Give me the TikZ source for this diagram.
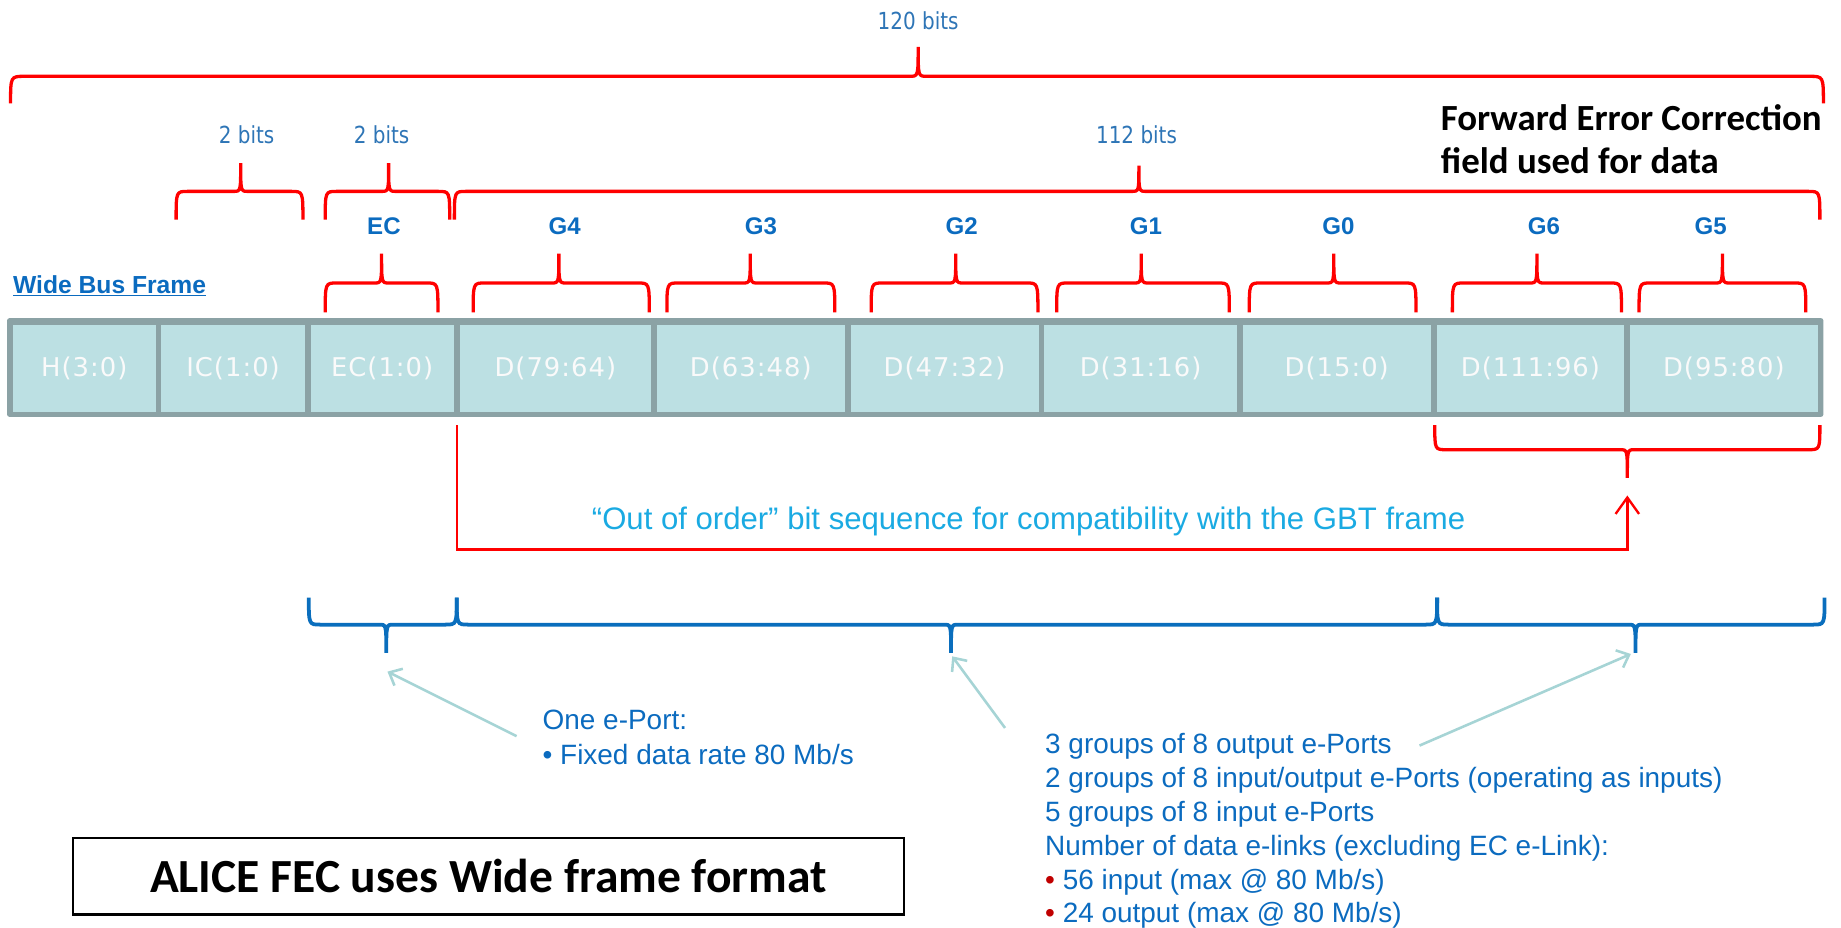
\documentclass[tikz,border=0pt]{standalone}
\usepackage{fontspec}
\setmainfont{Liberation Sans}
\newfontfamily\calib{Carlito}
\newfontfamily\cellfam[LetterSpace=4]{DejaVu Sans}
\newfontfamily\bitsfam[FakeStretch=0.85]{DejaVu Sans}
\usetikzlibrary{arrows.meta}
\definecolor{bred}{HTML}{FF0000}
\definecolor{bblue}{HTML}{0A6EBD}
\definecolor{lblue}{HTML}{2E75B6}
\definecolor{gblue}{HTML}{0B6BBF}
\definecolor{cyantxt}{HTML}{1AAAE2}
\definecolor{cellfill}{HTML}{BCE0E3}
\definecolor{cellborder}{HTML}{8BA2A5}
\definecolor{arrteal}{HTML}{A6D4D5}
\definecolor{bulred}{HTML}{C00000}
\newcommand\cellfnt{\cellfam\fontsize{22}{26}\selectfont}
\newcommand\bitsfnt{\bitsfam\fontsize{20}{24}\selectfont}
\newcommand\grpfnt{\bfseries\fontsize{20.5}{24}\selectfont}
\newcommand\infofnt{\fontsize{23.8}{28}\selectfont}
% style, x1, x2, xm, ytip, yh, yspike, r
\newcommand\curly[8]{\draw[#1] (#2,#5) .. controls (#2,#6) .. ({#2+#8},#6) -- ({#4-#8*0.6},#6) .. controls (#4,#6) .. (#4,#7) .. controls (#4,#6) .. ({#4+#8*0.6},#6) -- ({#3-#8},#6) .. controls (#3,#6) .. (#3,#5);}
\begin{document}
\begin{tikzpicture}[x=1pt,y=-1pt,
  redbrace/.style={draw=bred, line width=2.8pt},
  bluebrace/.style={draw=bblue, line width=3.2pt},
  cell/.style={fill=cellfill, minimum height=74pt, inner sep=0pt, text=white!96!gray, font=\cellfnt},
  bitslbl/.style={text=lblue, font=\bitsfnt, inner sep=0pt, anchor=base},
  grp/.style={text=gblue, font=\grpfnt, inner sep=0pt, anchor=base},
  infotxt/.style={text=gblue, font=\infofnt, inner sep=0pt, anchor=base west},
  hint/.style={draw=arrteal, line width=2.2pt, -{Straight Barb[length=9pt,width=16pt]}},
  oolink/.style={draw=bred, line width=2pt, -{Straight Barb[length=14pt,width=20pt]}}
]
\useasboundingbox (0,0) rectangle (1568,790);

% top labels
\node[bitslbl] (b120) at (782,25) {120 bits};
\node[bitslbl] (b2a) at (210,122) {2 bits};
\node[bitslbl] (b2b) at (325,122) {2 bits};
\node[bitslbl] (b112) at (968,122) {112 bits};

\curly{redbrace}{9}{1553}{782}{88}{65}{40}{12}
\curly{redbrace}{150}{258}{205}{187}{163}{139}{10}
\curly{redbrace}{277}{383}{331}{187}{163}{139}{10}
\curly{redbrace}{387}{1550}{970}{187}{163}{141}{10}

\node[anchor=base west, inner sep=0pt, font=\calib\bfseries\fontsize{31.4}{36}\selectfont] (fec1) at (1227,111) {Forward Error Correction};
\node[anchor=base west, inner sep=0pt, font=\calib\bfseries\fontsize{31.4}{36}\selectfont] (fec2) at (1227,148) {field used for data};

% group labels
\node[grp] (gec) at (327,200) {EC};
\node[grp] (g4) at (481,200) {G4};
\node[grp] (g3) at (648,200) {G3};
\node[grp] (g2) at (819,200) {G2};
\node[grp] (g1) at (976,200) {G1};
\node[grp] (g0) at (1140,200) {G0};
\node[grp] (g6) at (1315,200) {G6};
\node[grp] (g5) at (1457,200) {G5};

\curly{redbrace}{277}{373}{325}{266}{241}{216}{10}
\curly{redbrace}{403}{553}{476}{266}{241}{216}{10}
\curly{redbrace}{568}{711}{639}{266}{241}{216}{10}
\curly{redbrace}{742}{884}{814}{266}{241}{216}{10}
\curly{redbrace}{900}{1047}{972}{266}{241}{216}{10}
\curly{redbrace}{1064}{1206}{1136}{266}{241}{216}{10}
\curly{redbrace}{1237}{1381}{1309}{266}{241}{216}{10}
\curly{redbrace}{1396}{1538}{1467}{266}{241}{216}{10}

\node[anchor=base west, inner sep=0pt, text=gblue, font=\bfseries\fontsize{21}{25}\selectfont] (wbf) at (11,250) {\underline{Wide Bus Frame}};

% frame bar
\fill[cellborder, rounded corners=2pt] (6,271) rectangle (1553,355);
\node[cell, minimum width=121.5pt] (c1) at (71.75,314) {H(3:0)};
\node[cell, minimum width=122pt] (c2) at (198.5,314) {IC(1:0)};
\node[cell, minimum width=122pt] (c3) at (325.5,314) {EC(1:0)};
\node[cell, minimum width=163pt] (c4) at (473,314) {D(79:64)};
\node[cell, minimum width=160pt] (c5) at (639.5,314) {D(63:48)};
\node[cell, minimum width=160pt] (c6) at (804.5,314) {D(47:32)};
\node[cell, minimum width=164pt] (c7) at (971.5,314) {D(31:16)};
\node[cell, minimum width=160pt] (c8) at (1138.5,314) {D(15:0)};
\node[cell, minimum width=160pt] (c9) at (1303.5,314) {D(111:96)};
\node[cell, minimum width=159.5pt] (c10) at (1468.25,314) {D(95:80)};

% out of order
\curly{redbrace}{1222}{1550}{1386}{362}{383}{407}{10}
\coordinate (ooS) at (389,362);
\coordinate (ooB) at (389,468);
\coordinate (ooE) at (1386,422);
\draw[oolink] (ooS) -- (ooB) -| (ooE);
\node[anchor=base, inner sep=0pt, text=cyantxt, font=\fontsize{26.5}{30}\selectfont] (oot) at (876,451) {“Out of order” bit sequence for compatibility with the GBT frame};

% blue braces
\curly{bluebrace}{263}{389}{329}{509}{532}{556}{10}
\curly{bluebrace}{389}{1224}{810}{509}{532}{556}{10}
\curly{bluebrace}{1224}{1554}{1393}{509}{532}{556}{10}

% texts
\node[infotxt] (ep1) at (462,621) {One e-Port:};
\node[infotxt] (ep2) at (462,651) {• Fixed data rate 80 Mb/s};

\node[infotxt] (l1) at (890,642) {3 groups of 8 output e-Ports};
\node[infotxt] (l2) at (890,671) {2 groups of 8 input/output e-Ports (operating as inputs)};
\node[infotxt] (l3) at (890,700) {5 groups of 8 input e-Ports};
\node[infotxt] (l4) at (890,729) {Number of data e-links (excluding EC e-Link):};
\node[infotxt] (l5) at (890,758) {{\color{bulred}•} 56 input (max @ 80 Mb/s)};
\node[infotxt] (l6) at (890,786) {{\color{bulred}•} 24 output (max @ 80 Mb/s)};

% hint arrows
\coordinate (h1s) at (440,627);
\coordinate (h1e) at (330,572);
\coordinate (h2s) at (856,620);
\coordinate (h2e) at (811,559);
\coordinate (h3s) at (1209,635);
\coordinate (h3e) at (1389,557);
\draw[hint] (h1s) -- (h1e);
\draw[hint] (h2s) -- (h2e);
\draw[hint] (h3s) -- (h3e);

% box
\node[draw=black, line width=2pt, minimum width=708pt, minimum height=65pt, inner sep=0pt, font=\calib\bfseries\fontsize{40.5}{46}\selectfont] (alice) at (416,746.5) {ALICE FEC uses Wide frame format};
\end{tikzpicture}
\end{document}
